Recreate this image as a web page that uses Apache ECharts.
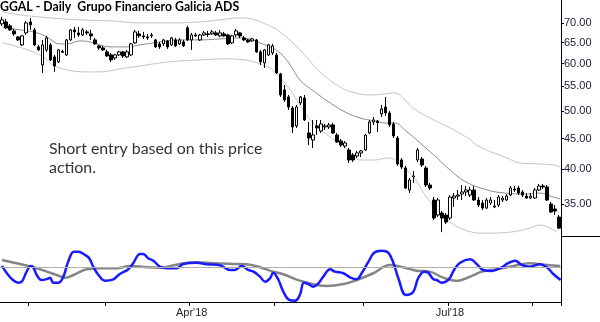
<!DOCTYPE html>
<html><head><meta charset="utf-8">
<script src="https://cdn.jsdelivr.net/npm/echarts@6/dist/echarts.min.js"></script>
<style>html,body{margin:0;padding:0;background:#fff}#c{width:600px;height:322px}</style>
</head><body><div id="c"></div>
<script>
// ---- data ----
const startDate = '2018-01-23', endDate = '2018-08-09';
const holidays = ['2018-02-19','2018-03-30','2018-05-28','2018-07-04'];
const labelMonths = {'2018-04':"Apr'18", '2018-07':"Jul'18"};
const priceTicks = [35,40,45,50,55,60,65,70];

const opens = [69.82,70.35,69.29,67.97,66.42,64.42,67.45,70.35,68.23,63.93,
59.67,63.20,64.42,61.53,60.36,62.60,62.00,65.66,68.23,67.45,
66.93,67.71,67.19,65.66,64.18,63.69,62.72,62.00,61.29,62.00,
62.72,61.53,62.00,64.92,67.19,66.68,66.42,66.68,65.66,64.67,
64.67,65.41,64.42,65.66,64.67,65.16,68.76,65.66,66.68,65.66,
66.93,67.19,67.19,67.45,66.68,67.19,66.93,64.92,66.93,67.45,
66.17,65.66,65.41,65.66,62.72,60.13,62.00,62.48,62.00,57.65,
54.22,52.79,50.61,47.24,51.59,52.58,45.99,44.77,47.24,46.34,
47.06,47.06,47.42,45.63,44.60,43.75,43.09,42.27,42.11,42.60,
43.09,45.99,47.97,48.15,49.46,50.80,49.65,47.60,45.11,41.47,
40.22,36.97,38.85,41.47,41.63,40.22,37.68,35.58,33.59,33.85,
33.59,33.21,35.85,36.12,36.40,36.69,36.26,36.97,35.58,35.17,
34.50,35.17,34.64,34.90,35.58,35.58,36.26,37.11,37.25,36.69,
36.12,35.85,35.85,36.97,37.54,37.40,35.04,34.37,33.33];
const closes = [70.89,68.76,68.23,67.19,65.66,66.68,70.08,69.55,64.42,63.20,
64.42,66.17,60.82,59.44,63.20,62.84,65.66,68.23,67.71,66.93,
68.23,67.45,66.68,64.67,63.69,63.20,61.76,60.82,62.00,62.72,
61.76,62.72,64.67,67.71,66.68,66.42,66.17,66.93,63.93,63.93,
65.66,63.93,66.17,64.18,65.66,64.18,65.66,66.93,66.93,66.93,
67.45,67.06,67.71,66.93,67.45,66.68,64.67,66.68,67.97,66.68,
65.66,65.16,65.91,62.72,60.36,63.20,64.42,64.18,57.87,53.19,
52.18,50.80,47.06,50.80,52.79,48.33,45.11,45.63,46.88,47.60,
47.24,47.42,45.99,44.43,43.92,44.26,41.47,41.47,42.60,42.93,
45.63,47.97,48.33,47.87,50.41,49.65,47.42,45.46,40.84,40.37,
37.25,38.41,39.00,43.09,40.68,37.68,37.25,33.21,35.58,33.21,
32.70,35.99,36.12,36.26,36.69,36.97,36.97,35.58,34.90,34.50,
35.58,35.58,34.77,35.99,35.85,36.12,37.25,36.97,36.54,36.26,
35.85,36.12,36.97,37.54,37.40,35.58,33.98,34.11,31.95];
const lows = [69.29,68.49,67.97,66.68,65.41,64.18,66.93,68.23,64.18,62.96,
57.87,62.72,60.59,58.10,60.13,62.48,61.76,65.41,66.17,66.42,
66.68,66.93,65.66,64.42,63.20,62.96,61.53,60.36,60.82,61.76,
61.29,61.29,61.76,64.67,66.17,65.91,65.66,66.17,63.69,63.44,
64.18,63.44,64.18,63.93,64.42,63.93,65.41,63.20,66.42,65.41,
66.68,66.42,66.93,66.68,66.42,66.42,64.42,64.67,66.42,66.17,
65.41,64.92,65.16,62.48,59.67,58.99,61.76,62.00,57.65,52.79,
51.78,50.22,45.99,46.88,51.19,48.15,43.92,43.42,45.63,45.99,
46.52,46.70,45.81,44.26,43.59,43.42,41.00,41.15,41.79,41.95,
42.93,45.81,47.42,46.16,48.89,49.08,47.06,45.11,40.53,40.06,
37.11,36.54,37.97,41.15,40.37,37.40,36.97,32.95,33.33,31.46,
32.45,32.95,34.64,35.58,35.58,36.12,35.99,35.44,34.64,34.24,
34.37,34.90,34.50,34.64,35.31,35.44,36.12,36.69,36.26,35.99,
35.72,35.72,35.72,36.83,37.11,35.44,33.85,33.59,31.83];
const highs = [71.71,71.16,69.82,68.49,66.68,66.93,70.62,71.44,68.76,64.42,
65.66,66.68,64.92,62.00,63.44,63.20,65.91,68.49,69.02,69.02,
68.76,68.23,68.23,66.17,64.42,64.18,63.20,62.48,62.24,62.96,
62.96,63.20,64.92,68.23,67.97,67.71,67.19,67.45,65.91,65.16,
65.91,65.66,66.42,66.17,66.17,65.66,69.29,67.45,67.45,67.19,
67.97,67.97,68.23,67.97,68.23,67.71,67.19,66.93,68.49,67.71,
66.68,65.91,66.17,65.91,63.20,63.44,64.67,64.67,62.48,57.87,
55.27,53.19,51.00,51.19,52.99,53.19,47.97,48.33,48.33,48.33,
47.60,47.78,47.78,45.99,44.94,44.60,43.42,42.60,42.93,43.09,
45.81,48.33,48.89,48.33,51.19,52.79,50.03,47.97,45.46,41.79,
40.53,38.71,39.76,43.42,41.95,40.53,37.97,35.99,35.85,34.11,
33.85,36.26,36.54,36.97,37.68,37.54,37.40,37.54,35.99,35.58,
35.85,35.99,35.58,36.26,36.12,36.40,37.54,37.54,37.54,36.97,
36.54,36.54,37.25,37.83,37.83,37.68,35.31,34.90,33.59];

// bands: [bar index, price]
const upperBand = [[0,73.1],[4.5,72.26],[11.9,71.44],[19.3,70.89],[26.8,70.62],[34.2,70.08],[41.6,70.08],[49.1,70.35],[54,70.89],[59,71.44],[62.7,70.89],[65.2,69.82],[68.9,67.71],[73.8,63.2],[78.8,58.1],[83.7,54.85],[87.5,53.6],[91.2,53.19],[94.9,53.4],[97.4,53.6],[99.8,52.18],[101.8,50.61],[106,48.7],[111,46.88],[115.2,45.2],[118.4,43.6],[125.1,41.79],[128.3,41.0],[133.3,40.84],[136.5,40.68],[138.3,40.37]];
const middleBand = [[0,69.02],[4.5,68.23],[7.7,67.71],[10.6,66.68],[14.4,64.67],[16.1,64.67],[19.3,65.41],[21.8,65.16],[26.8,63.93],[30.5,63.93],[34.2,64.42],[39.1,65.16],[44.1,65.66],[49.1,65.66],[54,65.91],[59,66.17],[62.2,65.66],[63.9,64.92],[66.4,63.93],[68.9,62.48],[71.4,59.67],[73.8,56.34],[77.5,53.81],[81.3,51.59],[85,49.84],[88.7,48.7],[92.4,48.15],[94.9,47.78],[97.4,47.78],[99.8,46.52],[103.6,44.26],[107.8,41.79],[111,39.91],[114.7,38.2],[120.2,36.97],[124.6,36.54],[129.6,36.4],[133.3,36.54],[135.8,36.12],[138.3,35.72]];
const lowerBand = [[0,64.92],[3.2,64.18],[7.7,62.72],[10.6,61.29],[12.6,59.67],[16.1,58.54],[20.6,58.1],[24.3,58.1],[29.2,58.77],[34.2,59.44],[39.1,60.13],[44.1,60.59],[49.1,60.82],[54.8,61.06],[60.2,60.82],[63.2,60.13],[65.2,59.44],[67.1,58.54],[71.4,54.22],[73.8,51.19],[77.1,47.78],[81.3,45.29],[83.7,44.26],[86.2,42.76],[88.7,41.47],[92.4,41.47],[95.6,41.79],[97.4,41.47],[98.6,40.68],[101.8,39.0],[103.6,37.4],[104.8,36.26],[107.8,34.24],[111,32.7],[114.7,31.71],[119.2,31.33],[125.9,31.46],[130.8,31.95],[133.3,32.33],[135.8,31.95],[137.5,31.46]];

// oscillator: [bar index, value]
const oscFast = [[0,51.9],[1.2,41.4],[2.7,31.7],[4,27.8],[4.9,29.3],[6.1,43.7],[7.1,51.9],[7.7,50.4],[8.6,38.9],[9.8,31.7],[11.1,33.1],[11.9,35],[12.7,27.8],[14,27.8],[15.2,36.5],[16.4,58.1],[17.8,72.5],[18.9,72.5],[20.6,67.7],[21.6,63],[22.6,50.9],[23.9,38.9],[25.5,30.7],[27.6,32.7],[29.2,40.3],[31.3,47.1],[32.5,55.8],[34.2,69.2],[35,69.2],[36.2,63],[37.5,59.5],[39.1,50.9],[40.8,48.6],[43.3,48.6],[44.9,54.8],[48.2,56.6],[50.7,54.3],[54,52.9],[56.5,46.1],[57.7,46.1],[59.4,51.9],[61,46.1],[62.3,43.7],[63.9,36.5],[65.2,29.3],[66.4,34.2],[67.2,42.2],[68.5,31.7],[69.7,14.8],[71.2,2.9],[72.6,1.9],[73.8,10.1],[74.8,27.8],[75.9,25.9],[77.1,22],[78.4,26.9],[79.6,36.5],[81.3,47.1],[82.5,43.7],[84.6,41.4],[86.2,35.6],[87.9,32.7],[89.1,41.4],[90.8,58.1],[92.2,71],[94.1,73.9],[95.7,71],[97,55.8],[98.2,34.2],[100.1,10.1],[101.9,14.8],[103.1,34.2],[104.6,43.7],[105.6,42.2],[106.9,32.7],[107.7,31.7],[108.9,27.8],[110.6,31.7],[112,46.1],[113.5,56.6],[116,61.5],[117.6,54.8],[119.2,46.1],[121.3,44.7],[123.4,48.6],[125.4,55.8],[127.1,59.5],[128.8,53.3],[130.8,50.9],[133.3,54.3],[135,50],[136.6,40.3],[138.4,31.7]];
const oscSlow = [[0,60.5],[3.6,55.8],[7.8,50],[11.1,43.7],[13.5,38.9],[15.6,35],[17.7,38.9],[21,47.1],[24.3,48.6],[28.4,48.6],[31.7,51.9],[35.8,50],[39.1,49.4],[44.1,54.8],[48.2,57.2],[52.4,55.8],[57.3,54.8],[60.6,54.3],[63.9,50],[67.2,43.7],[69.7,39.9],[73.8,30.7],[78,24.5],[80.4,23.1],[84.6,25.9],[87.9,31.7],[92,41.4],[96.1,53.3],[99.4,50],[102.7,45.1],[106,43.7],[109.3,35],[112.7,30.3],[116,36.5],[118.9,43.7],[122.6,47.1],[126.7,51.9],[130.8,55.8],[135,53.3],[138.3,51.9]];
const oscLevel = 50;

const titleText = 'GGAL - Daily  Grupo Financiero Galicia ADS';
const noteText = 'Short entry based on this price\naction.';

// ---- build ----
const pad = n => (n < 10 ? '0' : '') + n;
const dates = [];
for (let d = new Date(startDate + 'T12:00:00Z'); d <= new Date(endDate + 'T12:00:00Z'); d.setUTCDate(d.getUTCDate() + 1)) {
  const wd = d.getUTCDay();
  const s = d.getUTCFullYear() + '-' + pad(d.getUTCMonth() + 1) + '-' + pad(d.getUTCDate());
  if (wd === 0 || wd === 6 || holidays.includes(s)) continue;
  dates.push(s);
}
const isMonthStart = i => i > 0 && dates[i].slice(0, 7) !== dates[i - 1].slice(0, 7);
const candles = dates.map((d, i) => [opens[i], closes[i], lows[i], highs[i]]);
const n = dates.length;

const chart = echarts.init(document.getElementById('c'), null, {renderer: 'canvas'});
const FONT = 'Lato, "Noto Sans", sans-serif';
chart.setOption({
  animation: false,
  backgroundColor: '#fff',
  title: [
    {text: titleText, left: 0, top: 1, padding: 0,
     textStyle: {fontFamily: FONT, fontWeight: 'bold', fontSize: 12.3, color: '#000'}},
    {text: noteText, left: 49, top: 139, padding: 0,
     textStyle: {fontFamily: FONT, fontWeight: 'normal', fontSize: 15.9, color: '#333', lineHeight: 19}}
  ],
  grid: [
    {left: 0, right: 39, top: 0, height: 236},
    {left: 0, right: 39, top: 236, height: 66}
  ],
  xAxis: [
    {type: 'category', gridIndex: 0, data: dates, boundaryGap: true,
     axisLine: {show: false}, axisTick: {show: false}, axisLabel: {show: false}},
    {type: 'category', gridIndex: 1, data: dates, boundaryGap: true,
     axisLine: {show: true, lineStyle: {color: '#000', width: 1}},
     axisTick: {show: true, length: 4, lineStyle: {color: '#000'}, interval: (i) => isMonthStart(i)},
     axisLabel: {show: true, interval: (i, v) => isMonthStart(i) && !!labelMonths[v.slice(0, 7)],
       formatter: v => labelMonths[v.slice(0, 7)] || '', margin: 5,
       fontFamily: 'Liberation Sans, Arial, sans-serif', fontSize: 11, color: '#222'}},
    {type: 'value', gridIndex: 0, min: -0.5, max: n - 0.5, show: false},
    {type: 'value', gridIndex: 1, min: -0.5, max: n - 0.5, show: false}
  ],
  yAxis: [
    {type: 'log', gridIndex: 0, position: 'right', min: 31.0, max: 76.5, logBase: 10,
     axisLine: {show: true, onZero: false, lineStyle: {color: '#000', width: 1}},
     axisTick: {show: true, length: 3, lineStyle: {color: '#000'}, customValues: priceTicks},
     axisLabel: {show: true, customValues: priceTicks, formatter: v => Number(v).toFixed(2), margin: 3,
       fontFamily: 'Liberation Sans, Arial, sans-serif', fontSize: 11, color: '#1a1a3a'},
     splitLine: {show: false}},
    {type: 'value', gridIndex: 1, position: 'right', min: 0, max: 95,
     axisLine: {show: true, onZero: false, lineStyle: {color: '#000', width: 1}},
     axisTick: {show: false}, axisLabel: {show: false}, splitLine: {show: false}}
  ],
  graphic: [
    {type: 'line', shape: {x1: 561, y1: 236.5, x2: 600, y2: 236.5}, style: {stroke: '#000', lineWidth: 1}, silent: true}
  ],
  series: [
    {type: 'line', xAxisIndex: 2, yAxisIndex: 0, data: upperBand, smooth: 0.4, symbol: 'none',
     lineStyle: {color: '#c4c4c4', width: 1}, z: 1},
    {type: 'line', xAxisIndex: 2, yAxisIndex: 0, data: lowerBand, smooth: 0.4, symbol: 'none',
     lineStyle: {color: '#c4c4c4', width: 1}, z: 1},
    {type: 'line', xAxisIndex: 2, yAxisIndex: 0, data: middleBand, smooth: 0.4, symbol: 'none',
     lineStyle: {color: '#8c8c8c', width: 1}, z: 1},
    {type: 'candlestick', xAxisIndex: 0, yAxisIndex: 0, data: candles, barWidth: 3, z: 3,
     itemStyle: {color: '#fff', color0: '#000', borderColor: '#000', borderColor0: '#000', borderWidth: 1}},
    {type: 'line', xAxisIndex: 3, yAxisIndex: 1, data: oscSlow, smooth: 0.4, symbol: 'none',
     lineStyle: {color: '#858585', width: 2.5}, z: 2,
     markLine: {silent: true, symbol: 'none', label: {show: false},
       lineStyle: {color: '#b0b0b0', width: 1, type: 'solid'}, data: [{yAxis: oscLevel}]}},
    {type: 'line', xAxisIndex: 3, yAxisIndex: 1, data: oscFast, smooth: 0.4, symbol: 'none',
     lineStyle: {color: '#1a1aff', width: 2.5}, z: 3}
  ]
});
</script></body></html>
